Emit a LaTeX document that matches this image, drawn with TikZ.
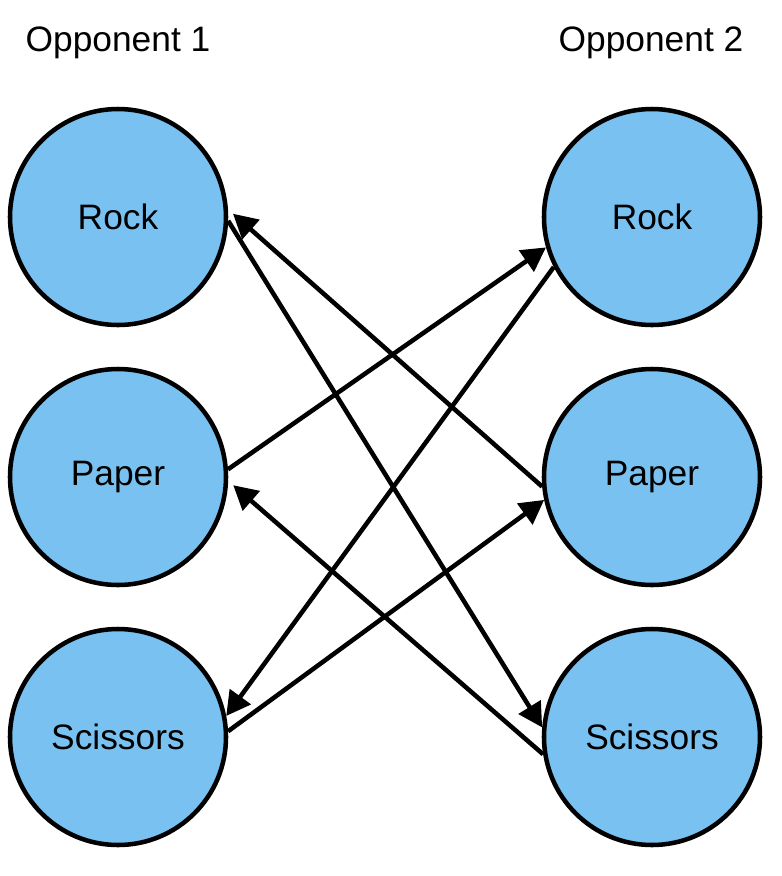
\documentclass[tikz,border=0pt]{standalone}
\usepackage{fontspec}
\setmainfont{Liberation Sans}
\usetikzlibrary{arrows.meta}
\definecolor{moveblue}{RGB}{120,193,240}

\begin{document}
\begin{tikzpicture}[x=0.75pt, y=-0.75pt,
	move/.style={circle, draw=black, fill=moveblue, line width=3.4pt, minimum size=162pt, inner sep=0pt, font=\fontsize{26.5}{30}\selectfont},
	heading/.style={font=\fontsize{26.5}{30}\selectfont},
	beats/.style={line width=3.4pt, -{Triangle[length=18pt,width=19pt]}}]
		%%%%% START %%%%%
		
		\useasboundingbox (0, 0) rectangle (782, 876);
		
		\node[heading] (opp1) at (118, 43) {Opponent 1};
		\node[heading] (opp2) at (651, 43) {Opponent 2};
		
		\node[move] (rock1) at (118, 217) {Rock};
		\node[move] (paper1) at (118, 477) {Paper};
		\node[move] (scissors1) at (118, 737) {Scissors};
		
		\node[move] (rock2) at (652, 217) {Rock};
		\node[move] (paper2) at (652, 477) {Paper};
		\node[move] (scissors2) at (652, 737) {Scissors};
		
		\draw[beats] (paper1.4) -- (rock2.196);
		\draw[beats] (rock2.207) -- (scissors1.11);
		\draw[beats] (scissors1.3) -- (paper2.192);
		\draw[beats, shorten >=5pt] (paper2.185) -- (rock1.4);
		\draw[beats] (rock1.-2) -- (scissors2.175);
		\draw[beats, shorten >=5pt] (scissors2.189) -- (paper1.-2);
		
		%%%%% END %%%%%
\end{tikzpicture}
\end{document}
